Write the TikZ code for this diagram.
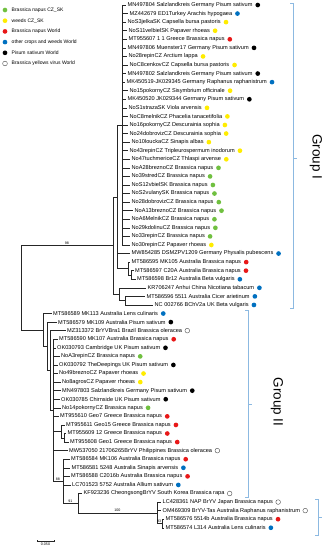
\documentclass[tikz,border=0pt]{standalone}
\usepackage{fontspec}
\setmainfont{Liberation Sans}
\usetikzlibrary{positioning}
\definecolor{czsk}{RGB}{112,192,64}
\definecolor{weedsk}{RGB}{255,236,0}
\definecolor{napusw}{RGB}{232,24,24}
\definecolor{otherw}{RGB}{0,112,192}
\definecolor{groupblue}{RGB}{140,185,225}

\begin{document}
\begin{tikzpicture}[x=1pt, y=-1pt,
    declare function={ly(\i)=5+(\i-1)*8.57;},
    branch/.style={line width=0.45pt, draw=black!85},
    taxon/.style={anchor=west, inner sep=0pt, xshift=1.5pt, font=\fontsize{5.6}{6}\selectfont},
    legendtext/.style={anchor=west, inner sep=0pt, font=\fontsize{5}{6}\selectfont},
    boot/.style={inner sep=0.6pt, anchor=south, font=\fontsize{3.6}{4}\selectfont},
    spot/.style={circle, inner sep=0pt, minimum size=4.7pt},
    cz/.style={spot, fill=czsk},
    weed/.style={spot, fill=weedsk},
    napw/.style={spot, fill=napusw},
    oth/.style={spot, fill=otherw},
    pis/.style={spot, fill=black},
    bryv/.style={spot, draw=black!70, line width=0.4pt, fill=white},
    grp/.style={draw=groupblue, line width=0.6pt},
    grplabel/.style={rotate=-90, inner sep=0pt, font=\fontsize{13.5}{14}\selectfont}
]
\useasboundingbox (0,0) rectangle (325,550);

% legend
\foreach \i/\s/\t in {1/cz/Brassica napus CZ\_SK, 2/weed/weeds CZ\_SK,
    3/napw/Brassica napus World, 4/oth/other crops and weeds World,
    5/pis/Pisum sativum World, 6/bryv/Brassica yellows virus World}{
  \node[\s] (K\i) at (5,{10+(\i-1)*10.7}) {};
  \node[legendtext, right=4pt of K\i] (KT\i) {\t};
}

% taxa
\foreach \i/\x/\s/\t in {
  1/126/pis/MN497804 Salzlandkreis Germany Pisum sativum,
  2/128/oth/MZ442679 ED1Turkey Arachis hypogaea,
  3/126/weed/NoS3jelkaSK Capsella bursa pastoris,
  4/127/weed/NoS11velbielSK Papaver rhoeas,
  5/127/napw/MT955607 1 1 Greece Brassica napus,
  6/126/pis/MN497806 Muenster17 Germany Pisum sativum,
  7/127/weed/No28repinCZ Arctium lappa,
  8/128/weed/NoC8cenkovCZ Capsella bursa pastoris,
  9/126/pis/MN497802 Salzlandkreis Germany Pisum sativum,
  10/125/oth/MK450519-JK029345 Germany Raphanus raphanistrum,
  11/128/weed/No15pokornyCZ Sisymbrium officinale,
  12/126/pis/MK450520 JK029344 Germany Pisum sativum,
  13/127/weed/NoS1strazaSK Viola arvensis,
  14/128/weed/NoC8melnikCZ Phacelia tanacetifolia,
  15/128/weed/No16pokornyCZ Descurainia sophia,
  16/128/weed/No24dobrovizCZ Descurainia sophia,
  17/130/weed/No10louckaCZ Sinapis albas,
  18/128/weed/No43repinCZ Tripleurospermum inodorum,
  19/130/weed/No47tuchmericeCZ Thlaspi arvense,
  20/130/cz/NoA28breznoCZ Brassica napus,
  21/130/cz/No39stredCZ Brassica napus,
  22/130/cz/NoS12vbielSK Brassica napus,
  23/130/cz/NoS2vulanySK Brassica napus,
  24/130/cz/No28dobrovizCZ Brassica napus,
  25/133/cz/NoA13breznoCZ Brassica napus,
  26/130/cz/NoA6MelnikCZ Brassica napus,
  27/130/cz/No29kdolinuCZ Brassica napus,
  28/130/cz/No33repinCZ Brassica napus,
  29/130/weed/No30repinCZ Papaver rhoeas,
  30/130/oth/MW854285 DSMZPV1209 Germany Physalis pubescens,
  31/130/napw/MT586595 MK105 Australia Brassica napus,
  32/133.5/napw/MT586597 C20A Australia Brassica napus,
  33/135.5/oth/MT586598 Br12 Australia Beta vulgaris,
  34/146/oth/KR706247 Anhui China Nicotiana tabacum,
  35/145/oth/MT586596 5511 Australia Cicer arietinum,
  36/153/oth/NC 002766 BChV2a UK Beta vulgaris,
  37/51.5/oth/MT586589 MK113 Australia Lens culinaris,
  38/56.5/pis/MT586579 MK109 Australia Pisum sativum,
  39/65.5/bryv/MZ313372 BrYVBra1 Brazil Brassica oleracea,
  40/57.5/napw/MT586590 MK107 Australia Brassica napus,
  41/55.5/pis/OK030793 Cambridge UK Pisum sativum,
  42/59.5/cz/NoA3repinCZ Brassica napus,
  43/57.5/pis/OK030792 TheDeepings UK Pisum sativum,
  44/57.5/weed/No49breznoCZ Papaver rhoeas,
  45/60.5/weed/No8agrosCZ Papaver rhoeas,
  46/60.5/pis/MN497803 Salzlandkreis Germany Pisum sativum,
  47/59.5/pis/OK030785 Chirnside UK Pisum sativum,
  48/60.5/cz/No14pokornyCZ Brassica napus,
  49/58.5/napw/MT955610 Geo7 Greece Brassica napus,
  50/64.5/napw/MT955611 Geo15 Greece Brassica napus,
  51/66/napw/MT955609 12 Greece Brassica napus,
  52/68.5/napw/MT955608 Geo1 Greece Brassica napus,
  53/67.5/bryv/MW537050 21706265BrYV Philippines Brassica oleracea,
  54/69.5/napw/MT586584 MK106 Australia Brassica napus,
  55/70/oth/MT586581 5248 Australia Sinapis arvensis,
  56/69.5/napw/MT586588 C2016b Australia Brassica napus,
  57/70.5/oth/LC701523 5752 Australia Allium sativum,
  58/82/bryv/KF923236 CheongsongBrYV South Korea Brassica rapa,
  59/161/bryv/LC428361 NAP BrYV Japan Brassica napus,
  60/161/bryv/OM469309 BrYV-Tas Australia Raphanus raphanistrum,
  61/164/napw/MT586576 5514b Australia Brassica napus,
  62/164/oth/MT586574 L314 Australia Lens culinaris}{
  \coordinate (L\i) at (\x,{ly(\i)});
  \node[taxon] (T\i) at (L\i) {\t};
  \node[\s, right=2.5pt of T\i] (D\i) {};
}

% internal nodes, group I
\pgfmathsetmacro\yStar{(ly(1)+ly(29))/2}
\pgfmathsetmacro\yAusb{(ly(32)+ly(33))/2}
\pgfmathsetmacro\yAus{(ly(31)+\yAusb)/2}
\pgfmathsetmacro\yMain{(\yStar+\yAus)/2}
\pgfmathsetmacro\yBchv{(ly(35)+ly(36))/2}
\pgfmathsetmacro\yOutg{(ly(34)+\yBchv)/2}
\pgfmathsetmacro\yGrpI{(\yMain+\yOutg)/2}
% internal nodes, group II
\pgfmathsetmacro\yBrC{(ly(61)+ly(62))/2}
\pgfmathsetmacro\yBrB{(ly(59)+\yBrC)/2}
\pgfmathsetmacro\yBrA{(ly(58)+\yBrB)/2}
\pgfmathsetmacro\yAusw{(ly(54)+\yBrA)/2}
\pgfmathsetmacro\yGeob{(ly(51)+ly(52))/2}
\pgfmathsetmacro\yGeo{(ly(50)+\yGeob)/2}
\pgfmathsetmacro\yCoreC{(ly(40)+\yAusw)/2}
\pgfmathsetmacro\yCoreB{(ly(39)+\yCoreC)/2}
\pgfmathsetmacro\yCoreA{(ly(38)+\yCoreB)/2}
\pgfmathsetmacro\yGrpII{(ly(37)+\yCoreA)/2}
\pgfmathsetmacro\yRoot{(\yGrpI+\yGrpII)/2}

\coordinate (root) at (21,\yRoot);
\coordinate (grpI) at (113,\yGrpI);
\coordinate (main) at (117,\yMain);
\coordinate (star) at (122,\yStar);
\coordinate (aus) at (128,\yAus);
\coordinate (ausb) at (131,\yAusb);
\coordinate (outg) at (119,\yOutg);
\coordinate (bchv) at (125,\yBchv);
\coordinate (grpII) at (43,\yGrpII);
\coordinate (coreA) at (47,\yCoreA);
\coordinate (coreB) at (50,\yCoreB);
\coordinate (coreC) at (53,\yCoreC);
\coordinate (geo) at (61,\yGeo);
\coordinate (geob) at (64,\yGeob);
\coordinate (ausw) at (63,\yAusw);
\coordinate (brA) at (78,\yBrA);
\coordinate (brB) at (157,\yBrB);
\coordinate (brC) at (162,\yBrC);

\begin{scope}[branch]
  \draw (root) |- (grpI);
  \draw (root) |- (grpII);
  \draw (grpI) |- (main);
  \draw (grpI) |- (outg);
  \draw (main) |- (star);
  \draw (main) |- (L30);
  \draw (main) |- (aus);
  \foreach \i in {1,...,29} \draw (star) |- (L\i);
  \draw (aus) |- (L31);
  \draw (aus) |- (ausb);
  \draw (ausb) |- (L32);
  \draw (ausb) |- (L33);
  \draw (outg) |- (L34);
  \draw (outg) |- (bchv);
  \draw (bchv) |- (L35);
  \draw (bchv) |- (L36);
  \draw (grpII) |- (L37);
  \draw (grpII) |- (coreA);
  \draw (coreA) |- (L38);
  \draw (coreA) |- (coreB);
  \draw (coreB) |- (L39);
  \draw (coreB) |- (coreC);
  \foreach \i in {40,...,49,53} \draw (coreC) |- (L\i);
  \draw (coreC) |- (geo);
  \draw (coreC) |- (ausw);
  \draw (geo) |- (L50);
  \draw (geo) |- (geob);
  \draw (geob) |- (L51);
  \draw (geob) |- (L52);
  \foreach \i in {54,...,57} \draw (ausw) |- (L\i);
  \draw (ausw) |- (brA);
  \draw (brA) |- (L58);
  \draw (brA) |- (brB);
  \draw (brB) |- (L59);
  \draw (brB) |- (L60);
  \draw (brB) |- (brC);
  \draw (brC) |- (L61);
  \draw (brC) |- (L62);
\end{scope}

% bootstrap values
\node[boot] at ({(21+113)/2},\yGrpI) {98};
\node[boot] at ({(53+63)/2},\yAusw) {88};
\node[boot] at ({(63+78)/2},\yBrA) {91};
\node[boot] at ({(78+157)/2},\yBrB) {100};
\node[boot, anchor=south east] at (brC) {93};

% groups
\draw[grp] (290,3) -- (293,3) -- (293,308) -- (290,308);
\draw[grp] (293,158) -- (297,158);
\node[grplabel] (G1) at (316,157) {Group I};
\draw[grp] (245,310) -- (248,310) -- (248,497) -- (245,497);
\draw[grp] (248,404) -- (252,404);
\node[grplabel] (G2) at (277,402) {Group II};
\draw[grp] (315,499) -- (318,499) -- (318,535) -- (315,535);
\draw[grp] (318,517) -- (322,517);

% scale
\draw[branch] (37,541) -- (54,541);
\draw[branch] (37,540) -- (37,542);
\draw[branch] (54,540) -- (54,542);
\node[boot, anchor=north] at (45.5,542.5) {0.050};
\end{tikzpicture}
\end{document}
